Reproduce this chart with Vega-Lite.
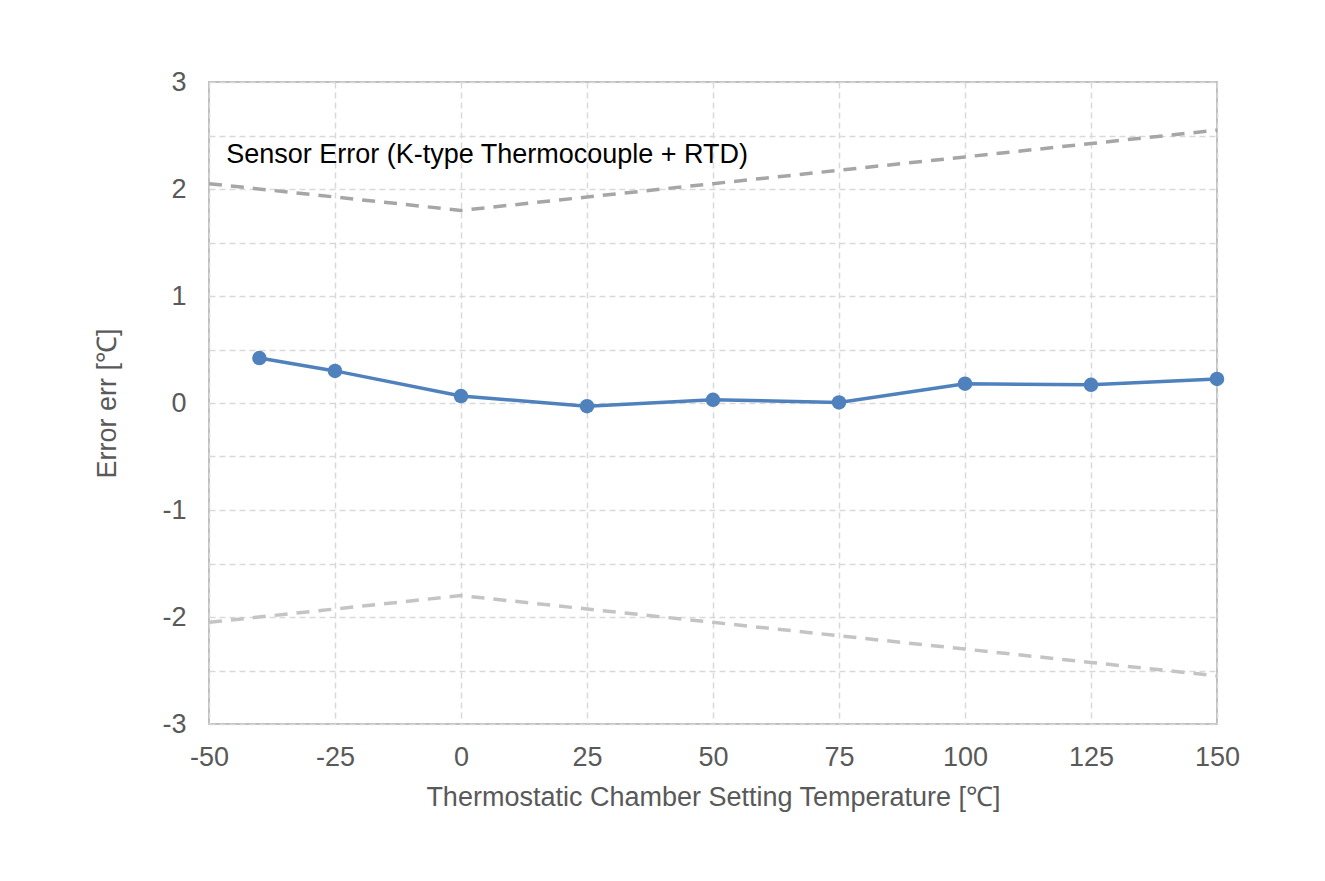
{
  "$schema": "https://vega.github.io/schema/vega-lite/v6.json",
  "width": 1008,
  "height": 642,
  "autosize": {"type": "none"},
  "padding": {"left": 209, "top": 82, "right": 108, "bottom": 157},
  "background": "white",
  "config": {
    "font": "Liberation Sans",
    "view": {"stroke": "#bfbfbf", "strokeWidth": 2},
    "axis": {
      "domain": false,
      "ticks": false,
      "grid": true,
      "gridColor": "#d9d9d9",
      "gridDash": [6, 4],
      "gridWidth": 1.5,
      "labelFont": "Liberation Sans",
      "labelFontSize": 27,
      "labelColor": "#595959",
      "labelFlush": false,
      "labelOverlap": false,
      "titleFont": "Liberation Sans",
      "titleFontSize": 27,
      "titleFontWeight": "normal",
      "titleColor": "#595959"
    }
  },
  "datasets": {
    "measured": [
      {"t": -40, "err": 0.42},
      {"t": -25, "err": 0.3},
      {"t": 0, "err": 0.065},
      {"t": 25, "err": -0.03},
      {"t": 50, "err": 0.03},
      {"t": 75, "err": 0.005},
      {"t": 100, "err": 0.18},
      {"t": 125, "err": 0.17},
      {"t": 150, "err": 0.225}
    ],
    "bounds": [
      {"t": -50, "upper": 2.05, "lower": -2.05},
      {"t": -25, "upper": 1.925, "lower": -1.925},
      {"t": 0, "upper": 1.8, "lower": -1.8},
      {"t": 25, "upper": 1.925, "lower": -1.925},
      {"t": 50, "upper": 2.05, "lower": -2.05},
      {"t": 75, "upper": 2.175, "lower": -2.175},
      {"t": 100, "upper": 2.3, "lower": -2.3},
      {"t": 125, "upper": 2.425, "lower": -2.425},
      {"t": 150, "upper": 2.55, "lower": -2.55}
    ],
    "note": [
      {"t": -46.6, "v": 2.32, "label": "Sensor Error (K-type Thermocouple + RTD)"}
    ]
  },
  "layer": [
    {
      "data": {"name": "bounds"},
      "mark": {"type": "line", "color": "#a6a6a6", "strokeWidth": 3.5, "strokeDash": [13, 9]},
      "encoding": {
        "x": {
          "field": "t", "type": "quantitative",
          "scale": {"domain": [-50, 150], "nice": false, "zero": false},
          "axis": {
            "values": [-50, -25, 0, 25, 50, 75, 100, 125, 150],
            "labelExpr": "'' + datum.value",
            "labelPadding": 20,
            "titlePadding": 14
          },
          "title": "Thermostatic Chamber Setting Temperature [℃]"
        },
        "y": {
          "field": "upper", "type": "quantitative",
          "scale": {"domain": [-3, 3], "nice": false, "zero": false},
          "axis": {
            "values": [-3, -2.5, -2, -1.5, -1, -0.5, 0, 0.5, 1, 1.5, 2, 2.5, 3],
            "labelExpr": "datum.value % 1 === 0 ? '' + datum.value : ''",
            "labelPadding": 23,
            "titlePadding": 40
          },
          "title": "Error err [℃]"
        }
      }
    },
    {
      "data": {"name": "bounds"},
      "mark": {"type": "line", "color": "#c4c4c4", "strokeWidth": 3.5, "strokeDash": [13, 9]},
      "encoding": {
        "x": {"field": "t", "type": "quantitative", "title": "Thermostatic Chamber Setting Temperature [℃]"},
        "y": {"field": "lower", "type": "quantitative", "title": "Error err [℃]"}
      }
    },
    {
      "data": {"name": "measured"},
      "mark": {"type": "line", "color": "#4f81bd", "strokeWidth": 3.5, "point": {"filled": true, "size": 210, "color": "#4f81bd", "opacity": 1}},
      "encoding": {
        "x": {"field": "t", "type": "quantitative", "title": "Thermostatic Chamber Setting Temperature [℃]"},
        "y": {"field": "err", "type": "quantitative", "title": "Error err [℃]"}
      }
    },
    {
      "data": {"name": "note"},
      "mark": {"type": "text", "align": "left", "baseline": "middle", "font": "Liberation Sans", "fontSize": 27, "color": "#000000"},
      "encoding": {
        "x": {"field": "t", "type": "quantitative"},
        "y": {"field": "v", "type": "quantitative"},
        "text": {"field": "label"}
      }
    }
  ]
}
